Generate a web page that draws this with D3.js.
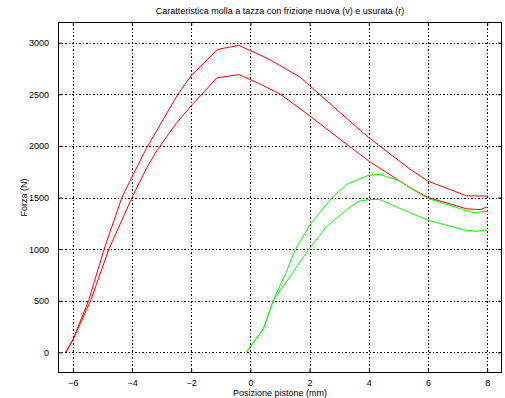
<!DOCTYPE html>
<html>
<head>
<meta charset="utf-8">
<title></title>
<style>
body { margin: 0; background: #fff; }
text { font-family: "Liberation Sans", Arial, sans-serif; font-size: 9px; fill: #000; }
.grid line { stroke: #000; stroke-width: 1; stroke-dasharray: 2,2,1,2; shape-rendering: crispEdges; }
path.curve { fill: none; stroke-width: 1; }
</style>
</head>
<body>
<script src="https://cdn.jsdelivr.net/npm/d3@7/dist/d3.min.js"></script>
<script>

// worn spring (red), loading and unloading branches
var redUpX = [-6.24, -6.0, -5.46, -4.95, -4.34, -4.0, -3.53, -3.0, -2.45, -2.0, -1.1, -0.39, 0.6, 1.68, 2.0, 3.0, 4.0, 5.4, 6.0, 7.31, 8.0];
var redUpY = [0, 120, 506, 993, 1500, 1700, 1967, 2230, 2500, 2681, 2935, 2974, 2844, 2666, 2584, 2330, 2080, 1773, 1658, 1515, 1515];

var redLoX = [-6.24, -6.0, -5.39, -4.79, -4.0, -3.5, -3.13, -2.5, -2.0, -1.13, -0.39, 0.32, 1.0, 2.0, 3.0, 4.0, 5.4, 6.0, 7.31, 7.76, 8.0];
var redLoY = [0, 117, 506, 993, 1500, 1790, 1967, 2220, 2389, 2659, 2691, 2600, 2503, 2292, 2070, 1853, 1594, 1500, 1390, 1383, 1409];

// new spring (green)
var greenUpX = [-0.14, 0.44, 0.78, 1.2, 1.51, 2.02, 2.75, 3.25, 3.98, 4.37, 5.0, 5.4, 6.0, 7.54, 8.0];
var greenUpY = [0, 230, 506, 770, 993, 1237, 1497, 1627, 1714, 1724, 1665, 1594, 1490, 1351, 1367];

var greenLoX = [-0.14, 0.44, 0.78, 1.4, 1.96, 2.58, 3.2, 3.65, 3.99, 4.37, 5.0, 6.0, 7.2, 7.6, 8.0];
var greenLoY = [0, 230, 506, 760, 993, 1220, 1370, 1464, 1480, 1480, 1400, 1279, 1188, 1172, 1188];

var xTicks = [-6, -4, -2, 0, 2, 4, 6, 8];
var yTicks = [0, 500, 1000, 1500, 2000, 2500, 3000];

var width = 505, height = 398;
var margin = {left: 58, right: 3, top: 22, bottom: 25};

var svg = d3.select("body").append("svg")
    .attr("width", width)
    .attr("height", height);

var x = d3.scaleLinear().domain([-6.5, 8.5]).range([margin.left, width - margin.right]);
var y = d3.scaleLinear().domain([-200, 3200]).range([height - margin.bottom, margin.top]);

// grid
var grid = svg.append("g").attr("class", "grid");
grid.selectAll("line.v").data(xTicks).enter().append("line")
    .attr("x1", function(d) { return Math.round(x(d)) + 0.5; })
    .attr("x2", function(d) { return Math.round(x(d)) + 0.5; })
    .attr("y1", y.range()[0]).attr("y2", y.range()[1]);
grid.selectAll("line.h").data(yTicks).enter().append("line")
    .attr("y1", function(d) { return Math.round(y(d)) + 0.5; })
    .attr("y2", function(d) { return Math.round(y(d)) + 0.5; })
    .attr("x1", x.range()[0]).attr("x2", x.range()[1]);

// curves
var line = d3.line()
    .x(function(d) { return x(d[0]); })
    .y(function(d) { return y(d[1]); });

function draw(xs, ys, color) {
  svg.append("path")
      .attr("class", "curve")
      .attr("d", line(d3.zip(xs, ys)))
      .style("stroke", color);
}
draw(redUpX, redUpY, "#ff0000");
draw(redLoX, redLoY, "#ff0000");
draw(greenUpX, greenUpY, "#00ff00");
draw(greenLoX, greenLoY, "#00ff00");

// axes (ticks inward, on all four sides)
var fmt = d3.format("");
svg.append("g")
    .attr("transform", "translate(0," + (height - margin.bottom) + ")")
    .call(d3.axisBottom(x).tickValues(xTicks).tickSizeInner(-4).tickSizeOuter(0).tickPadding(7))
    .call(function(g) { g.select(".domain").remove(); });
svg.append("g")
    .attr("transform", "translate(0," + margin.top + ")")
    .call(d3.axisTop(x).tickValues(xTicks).tickSizeInner(-4).tickSizeOuter(0).tickFormat(""))
    .call(function(g) { g.select(".domain").remove(); });
svg.append("g")
    .attr("transform", "translate(" + margin.left + ",0)")
    .call(d3.axisLeft(y).tickValues(yTicks).tickSizeInner(-4).tickSizeOuter(0).tickPadding(9).tickFormat(fmt))
    .call(function(g) { g.select(".domain").remove(); });
svg.append("g")
    .attr("transform", "translate(" + (width - margin.right) + ",0)")
    .call(d3.axisRight(y).tickValues(yTicks).tickSizeInner(-4).tickSizeOuter(0).tickFormat(""))
    .call(function(g) { g.select(".domain").remove(); });

svg.selectAll(".tick text").style("font-size", "9px").style("font-family", "Liberation Sans, Arial, sans-serif");
svg.selectAll(".tick line").attr("stroke", "#000");

// box
svg.append("rect")
    .attr("x", margin.left + 0.5)
    .attr("y", margin.top + 0.5)
    .attr("width", width - margin.left - margin.right - 1)
    .attr("height", height - margin.top - margin.bottom - 1)
    .style("fill", "none")
    .style("stroke", "#000");

// labels
var cx = (margin.left + width - margin.right) / 2;
svg.append("text")
    .attr("x", cx).attr("y", 14)
    .attr("text-anchor", "middle")
    .text("Caratteristica molla a tazza con frizione nuova (v) e usurata (r)");
svg.append("text")
    .attr("x", cx).attr("y", 396)
    .attr("text-anchor", "middle")
    .text("Posizione pistone (mm)");
svg.append("text")
    .attr("transform", "translate(27," + ((margin.top + height - margin.bottom) / 2) + ") rotate(-90)")
    .attr("text-anchor", "middle")
    .text("Forza (N)");

</script>
</body>
</html>
